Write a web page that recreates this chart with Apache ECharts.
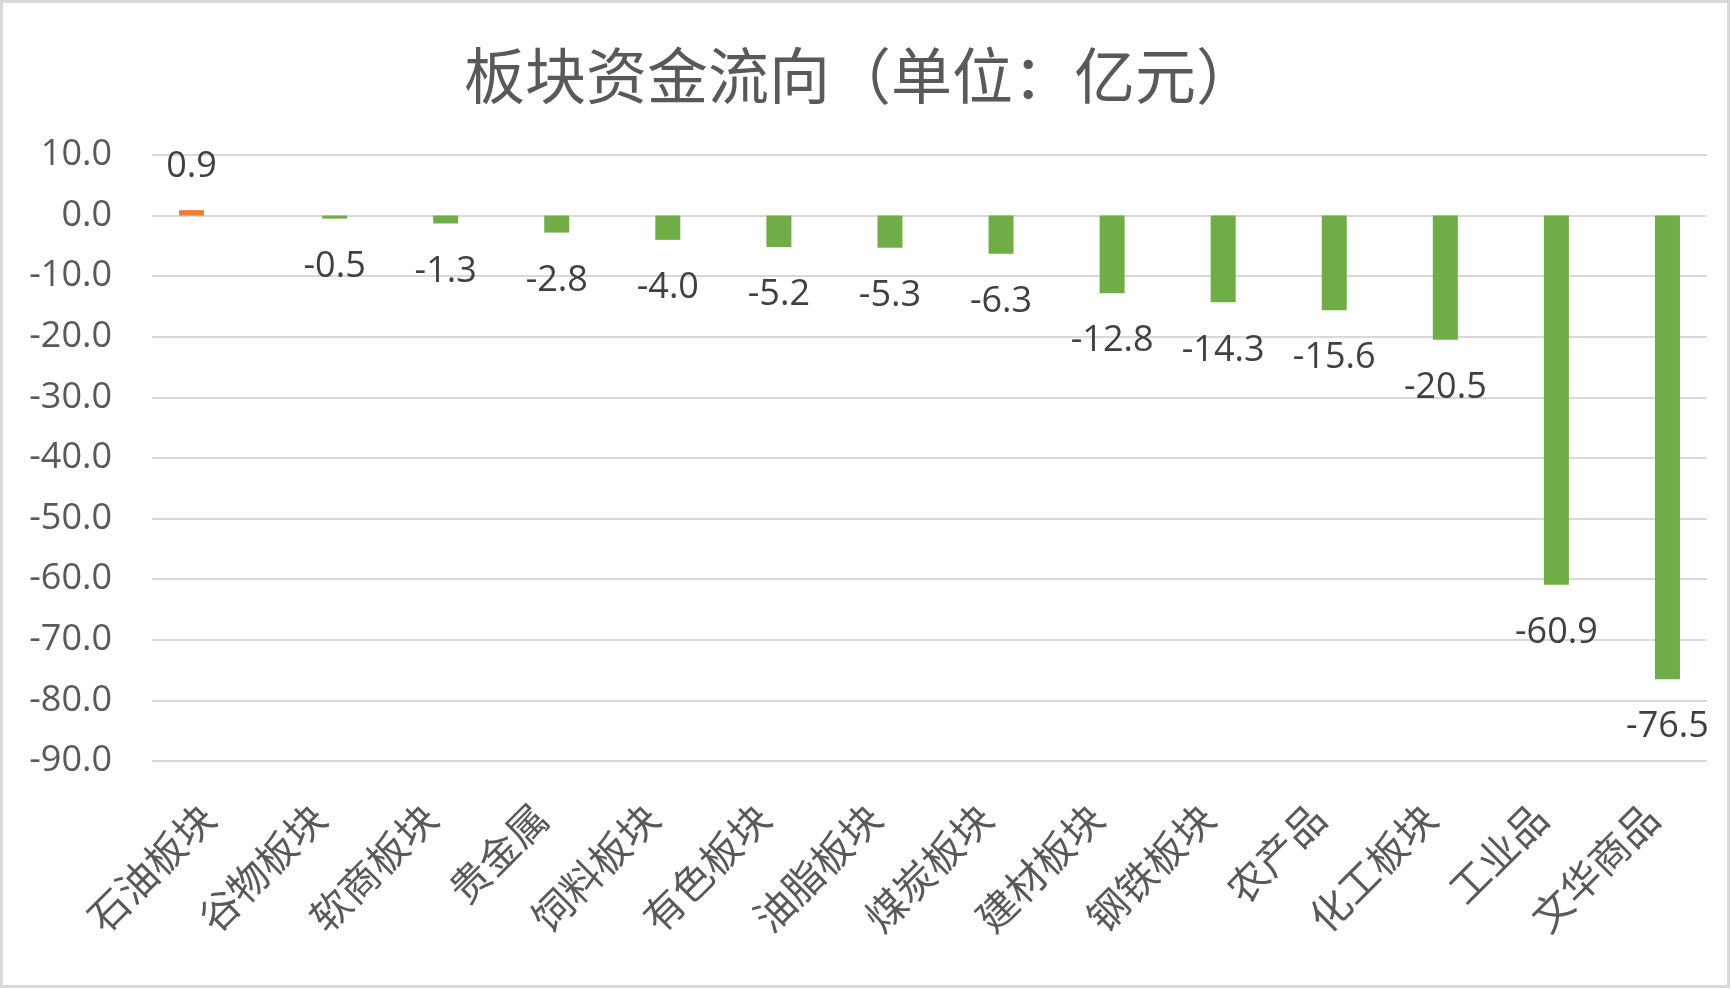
<!DOCTYPE html>
<html>
<head>
<meta charset="utf-8">
<title>板块资金流向</title>
<script src="https://cdn.jsdelivr.net/npm/echarts@6/dist/echarts.min.js"></script>
<style>
  html, body { margin: 0; padding: 0; background: #fff; }
  #chart { width: 1731px; height: 989px; }
</style>
</head>
<body>
<div id="chart"></div>
<script>
// 板块名称
const categories = ['石油板块', '谷物板块', '软商板块', '贵金属', '饲料板块', '有色板块', '油脂板块',
    '煤炭板块', '建材板块', '钢铁板块', '农产品', '化工板块', '工业品', '文华商品'];
// 资金流入（亿元）
const inflow = [0.9, null, null, null, null, null, null, null, null, null, null, null, null, null];
// 资金流出（亿元）
const outflow = [null, -0.5, -1.3, -2.8, -4.0, -5.2, -5.3, -6.3, -12.8, -14.3, -15.6, -20.5, -60.9, -76.5];
// 纵轴范围
const yMin = -90;
const yMax = 10;
const yStep = 10;

const numFont = "'Open Sans', 'Noto Sans CJK SC', sans-serif";
const cnFont = "'Noto Sans CJK SC', sans-serif";

const chart = echarts.init(document.getElementById('chart'));

const labelStyle = (pos, dist) => ({
    show: true,
    position: pos,
    distance: dist,
    color: '#404040',
    fontSize: 36,
    fontFamily: numFont,
    formatter: (p) => p.value == null ? '' : Number(p.value).toFixed(1)
});

chart.setOption({
    animation: false,
    backgroundColor: '#fff',
    title: {
        text: '板块资金流向（单位：亿元）',
        left: 459,
        top: 40,
        textStyle: {
            color: '#595959',
            fontSize: 61,
            fontWeight: 'normal',
            fontFamily: cnFont
        }
    },
    graphic: [{
        type: 'rect',
        shape: { x: 1.5, y: 1.5, width: 1727, height: 985 },
        style: { fill: 'none', stroke: '#d9d9d9', lineWidth: 3 },
        silent: true
    }],
    grid: {
        left: 152,
        right: 24,
        top: 155,
        bottom: 228
    },
    xAxis: {
        type: 'category',
        data: categories,
        axisLine: { show: false, onZero: false },
        axisTick: { show: false },
        axisLabel: {
            rotate: 45,
            margin: 50,
            interval: 0,
            color: '#595959',
            fontSize: 40,
            fontFamily: cnFont
        }
    },
    yAxis: {
        type: 'value',
        min: yMin,
        max: yMax,
        interval: yStep,
        axisLine: { show: false },
        axisTick: { show: false },
        splitLine: { lineStyle: { color: '#d9d9d9', width: 2 } },
        axisLabel: {
            margin: 40,
            color: '#595959',
            fontSize: 36,
            fontFamily: numFont,
            formatter: (v) => v.toFixed(1)
        }
    },
    series: [{
        name: '流入',
        type: 'bar',
        data: inflow,
        barWidth: 25,
        barGap: '28%',
        itemStyle: { color: '#ED7D31' },
        label: labelStyle('top', 25)
    }, {
        name: '流出',
        type: 'bar',
        data: outflow,
        barWidth: 25,
        barGap: '28%',
        itemStyle: { color: '#70AD47' },
        label: labelStyle('bottom', 30)
    }]
});
</script>
</body>
</html>
